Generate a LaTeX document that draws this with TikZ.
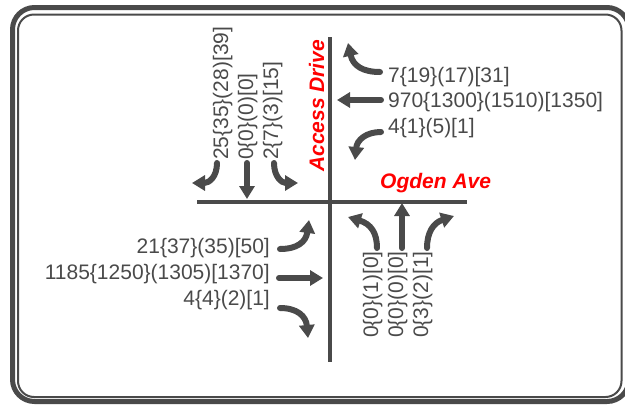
\documentclass[tikz,border=0pt]{standalone}
\usepackage{fontspec}
\setmainfont{Liberation Sans}
\usetikzlibrary{arrows.meta}
\definecolor{dg}{HTML}{4A4A4A}
\definecolor{rd}{HTML}{FF0000}
\tikzset{
  vol/.style={inner sep=0pt, text=dg, font=\fontsize{21}{21}\selectfont},
  street/.style={inner sep=0pt, text=rd, font=\fontsize{21}{21}\selectfont\bfseries\itshape},
  road/.style={draw=dg, line width=3.5pt},
  mv/.style={draw=dg, line width=6pt, line cap=round, -{Triangle[width=15pt,length=13pt]}},
}
\begin{document}
\begin{tikzpicture}[x=1pt,y=-1pt]
\useasboundingbox (0,0) rectangle (625,405);
% frame
\draw[dg, line width=5pt, rounded corners=22pt] (12.5,7.5) rectangle (629,401.5);
\draw[dg, line width=2pt, rounded corners=16pt] (18,14.5) rectangle (621.5,397);
% roads
\coordinate (vt) at (330,37);
\coordinate (vb) at (330,362);
\coordinate (hl) at (197,202);
\coordinate (hr) at (467,202);
\draw[road] (vt) -- (vb);
\draw[road] (hl) -- (hr);
% street names
\node[street, rotate=90, anchor=base west] (acc) at (324,172) {Access Drive};
\node[street, anchor=base west] (ogd) at (380,188) {Ogden Ave};
% westbound (east side) volumes
\node[vol, anchor=base west] (e1) at (388,82) {7\{19\}(17)[31]};
\node[vol, anchor=base west] (e2) at (388,107.5) {970\{1300\}(1510)[1350]};
\node[vol, anchor=base west] (e3) at (388,133.5) {4\{1\}(5)[1]};
% eastbound (west side) volumes
\node[vol, anchor=base east] (w1) at (270,253) {21\{37\}(35)[50]};
\node[vol, anchor=base east] (w2) at (270,279) {1185\{1250\}(1305)[1370]};
\node[vol, anchor=base east] (w3) at (270,305) {4\{4\}(2)[1]};
% southbound (north side) volumes
\node[vol, rotate=90, anchor=base west] (n1) at (228,160) {25\{35\}(28)[39]};
\node[vol, rotate=90, anchor=base west] (n2) at (253,160) {0\{0\}(0)[0]};
\node[vol, rotate=90, anchor=base west] (n3) at (278,160) {2\{7\}(3)[15]};
% northbound (south side) volumes
\node[vol, rotate=90, anchor=base west] (s1) at (378,338) {0\{0\}(1)[0]};
\node[vol, rotate=90, anchor=base west] (s2) at (403,338) {0\{0\}(0)[0]};
\node[vol, rotate=90, anchor=base west] (s3) at (428,338) {0\{3\}(2)[1]};
% arrow end points
\coordinate (sbr0) at (217,163); \coordinate (sbr1) at (192,183);
\coordinate (sbt0) at (247,163); \coordinate (sbt1) at (247,199);
\coordinate (sbl0) at (274,163); \coordinate (sbl1) at (298,183);
\coordinate (wbr0) at (380,72);  \coordinate (wbr1) at (348,43);
\coordinate (wbt0) at (381,100); \coordinate (wbt1) at (337,100);
\coordinate (wbl0) at (381,132); \coordinate (wbl1) at (355,160);
\coordinate (ebl0) at (280,249); \coordinate (ebl1) at (309,220);
\coordinate (ebt0) at (279,278); \coordinate (ebt1) at (323,278);
\coordinate (ebr0) at (280,308); \coordinate (ebr1) at (308,338);
\coordinate (nbl0) at (377,248); \coordinate (nbl1) at (348,217);
\coordinate (nbt0) at (402,248); \coordinate (nbt1) at (402,203);
\coordinate (nbr0) at (427,248); \coordinate (nbr1) at (454,216);
% southbound arrows
\draw[mv] (sbr0) .. controls (217,177) and (209,183) .. (sbr1);
\draw[mv] (sbt0) -- (sbt1);
\draw[mv] (sbl0) .. controls (274,177) and (282,183) .. (sbl1);
% westbound arrows
\draw[mv] (wbr0) .. controls (363,72) and (353,66) .. (wbr1);
\draw[mv] (wbt0) -- (wbt1);
\draw[mv] (wbl0) .. controls (366,132) and (357,140) .. (wbl1);
% eastbound arrows
\draw[mv] (ebl0) .. controls (297,249) and (306,242) .. (ebl1);
\draw[mv] (ebt0) -- (ebt1);
\draw[mv] (ebr0) .. controls (297,308) and (306,316) .. (ebr1);
% northbound arrows
\draw[mv] (nbl0) .. controls (377,233) and (371,224) .. (nbl1);
\draw[mv] (nbt0) -- (nbt1);
\draw[mv] (nbr0) .. controls (427,233) and (433,223) .. (nbr1);
\end{tikzpicture}
\end{document}
